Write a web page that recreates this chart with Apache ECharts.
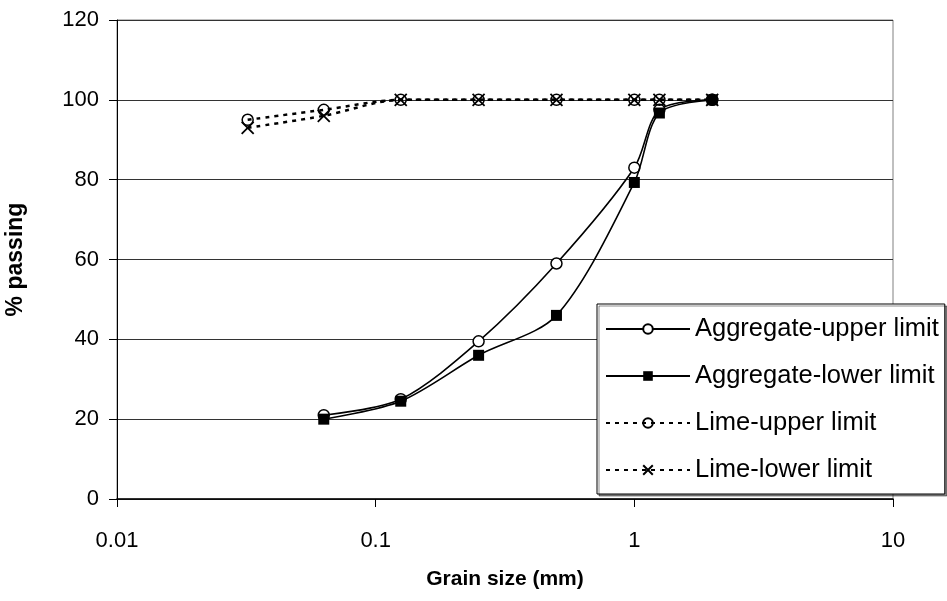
<!DOCTYPE html>
<html>
<head>
<meta charset="utf-8">
<script src="https://cdn.jsdelivr.net/npm/echarts@6/dist/echarts.min.js"></script>
<style>
  html, body { margin: 0; padding: 0; background: #fff; }
  #chart { width: 947px; height: 601px; }
</style>
</head>
<body>
<div id="chart"></div>
<script>
// Sieve sizes (mm)
var aggregateSizes = [0.063, 0.125, 0.25, 0.5, 1, 1.25, 2];
var limeSizes = [0.032, 0.063, 0.125, 0.25, 0.5, 1, 1.25, 2];

// Grading envelopes (% passing)
var aggregateUpper = [21, 25, 39.5, 59, 83, 97.5, 100];
var aggregateLower = [20, 24.5, 36, 46, 79.3, 96.7, 100];
var limeUpper = [95, 97.5, 100, 100, 100, 100, 100, 100];
var limeLower = [93, 96, 100, 100, 100, 100, 100, 100];

var seriesNames = ['Aggregate-upper limit', 'Aggregate-lower limit', 'Lime-upper limit', 'Lime-lower limit'];
var xTickLabels = ['0.01', '0.1', '1', '10'];
var yTicks = [0, 20, 40, 60, 80, 100, 120];

function pairs(xs, ys) {
  return xs.map(function (x, i) { return [x, ys[i]]; });
}

var FONT = '"Liberation Sans", Arial, sans-serif';
var crossPath = 'path://M0,0L10,10M10,0L0,10';

var chart = echarts.init(document.getElementById('chart'), null, { renderer: 'canvas' });

chart.setOption({
  animation: false,
  backgroundColor: '#fff',
  textStyle: { fontFamily: FONT, color: '#000' },
  grid: {
    left: 117, right: 54, top: 20, bottom: 102,
    show: true, borderColor: '#808080', borderWidth: 1,
    containLabel: false,
    outerBoundsMode: 'none'
  },
  legend: {
    orient: 'vertical',
    left: 597, top: 304,
    width: 346,
    padding: [12, 6, 11, 8],
    itemGap: 21,
    itemWidth: 84,
    itemHeight: 12,
    backgroundColor: '#fff',
    borderColor: '#000',
    borderWidth: 1,
    shadowColor: 'rgba(0,0,0,0.45)',
    shadowOffsetX: 2, shadowOffsetY: 2, shadowBlur: 0,
    textStyle: { fontFamily: FONT, fontSize: 25.5, color: '#000', padding: [0, 0, 0, 0] },
    data: seriesNames
  },
  xAxis: {
    type: 'log',
    logBase: 10,
    min: 0.01,
    max: 10,
    name: 'Grain size (mm)',
    nameLocation: 'middle',
    nameGap: 70,
    nameTextStyle: { fontFamily: FONT, fontSize: 21, fontWeight: 'bold', color: '#000' },
    axisLine: { show: true, onZero: false, lineStyle: { color: '#000', width: 1.5 } },
    axisTick: { show: true, inside: false, length: 8, lineStyle: { color: '#000' } },
    axisLabel: {
      fontFamily: FONT, fontSize: 22, color: '#000', margin: 31,
      formatter: function (v) {
        var k = Math.round(Math.log10(v)) + 2;
        return xTickLabels[k] !== undefined ? xTickLabels[k] : '';
      }
    },
    splitLine: { show: false },
    minorTick: { show: false }
  },
  yAxis: {
    type: 'value',
    min: yTicks[0],
    max: yTicks[yTicks.length - 1],
    interval: 20,
    name: '% passing',
    nameLocation: 'middle',
    nameGap: 90,
    nameTextStyle: { fontFamily: FONT, fontSize: 23, fontWeight: 'bold', color: '#000' },
    axisLine: { show: true, lineStyle: { color: '#000', width: 1 } },
    axisTick: { show: true, inside: false, length: 8, lineStyle: { color: '#000' } },
    axisLabel: { fontFamily: FONT, fontSize: 22, color: '#000', margin: 18 },
    splitLine: { show: true, lineStyle: { color: '#333', width: 1 } }
  },
  series: [
    {
      name: seriesNames[0],
      type: 'line',
      data: pairs(aggregateSizes, aggregateUpper),
      smooth: 0.3,
      symbol: 'circle',
      symbolSize: 11,
      showAllSymbol: true,
      lineStyle: { color: '#000', width: 1.6 },
      itemStyle: { color: '#fff', borderColor: '#000', borderWidth: 1.5 },
      z: 2
    },
    {
      name: seriesNames[1],
      type: 'line',
      data: pairs(aggregateSizes, aggregateLower),
      smooth: 0.3,
      symbol: 'rect',
      symbolSize: 11,
      showAllSymbol: true,
      lineStyle: { color: '#000', width: 1.6 },
      itemStyle: { color: '#000', borderColor: '#000', borderWidth: 0 },
      z: 3
    },
    {
      name: seriesNames[2],
      type: 'line',
      data: pairs(limeSizes, limeUpper),
      smooth: 0.3,
      symbol: 'circle',
      symbolSize: 11,
      showAllSymbol: true,
      lineStyle: { color: '#000', width: 2.5, type: [4, 5] },
      itemStyle: { color: 'rgba(255,255,255,0)', borderColor: '#000', borderWidth: 1.5 },
      z: 4
    },
    {
      name: seriesNames[3],
      type: 'line',
      data: pairs(limeSizes, limeLower),
      smooth: 0.3,
      symbol: crossPath,
      symbolSize: 12,
      showAllSymbol: true,
      lineStyle: { color: '#000', width: 2.5, type: [4, 5] },
      itemStyle: { color: '#000', borderColor: '#000', borderWidth: 1.8 },
      z: 5
    }
  ]
});
</script>
</body>
</html>
